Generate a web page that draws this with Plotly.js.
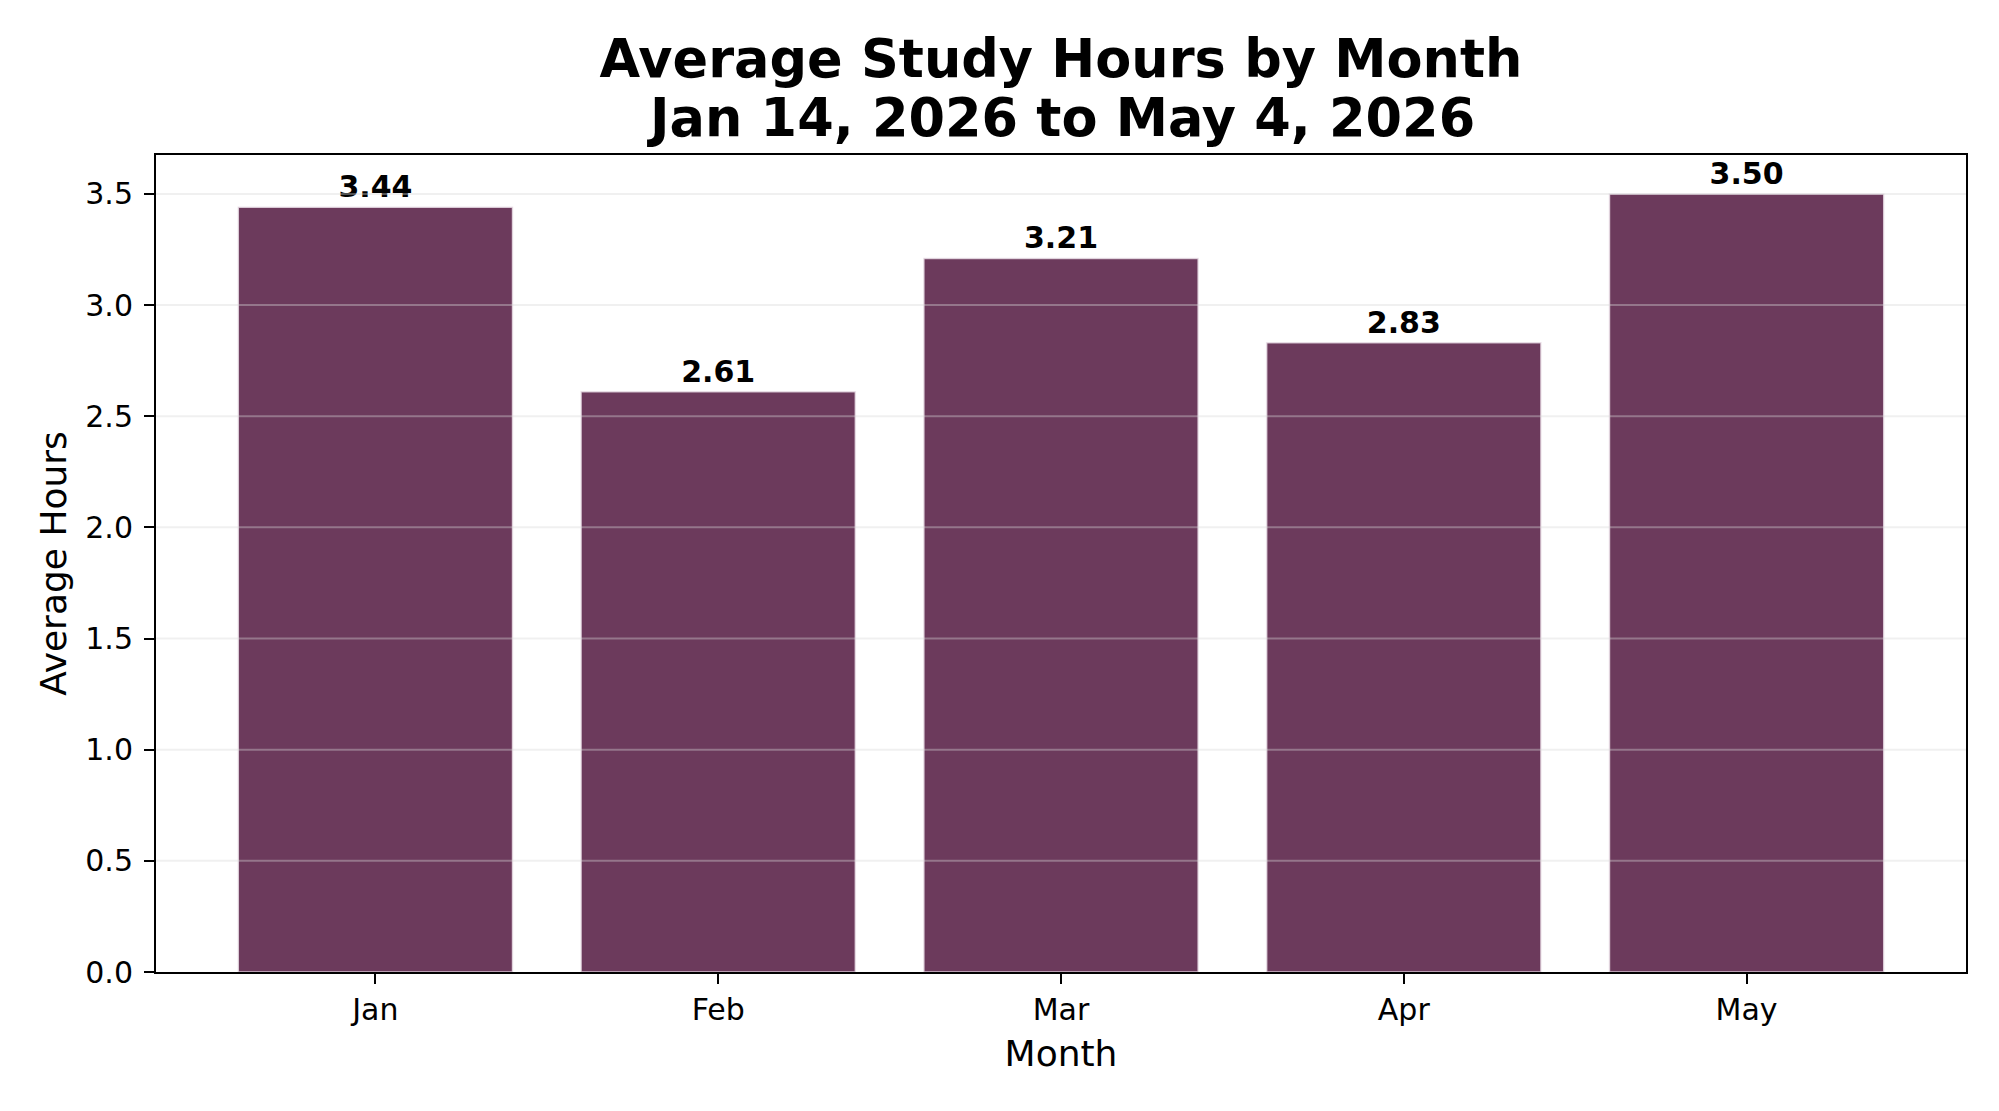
<!DOCTYPE html>
<html>
<head>
<meta charset="utf-8">
<script src="https://cdn.plot.ly/plotly-3.0.1.min.js"></script>
<style>
  html, body { margin: 0; padding: 0; background: #ffffff; }
  #chart { width: 1999px; height: 1111px; }
</style>
</head>
<body>
<div id="chart"></div>
<script>
const months = ["Jan", "Feb", "Mar", "Apr", "May"];
const avgHours = [3.44, 2.61, 3.21, 2.83, 3.50];
const barLabels = ["3.44", "2.61", "3.21", "2.83", "3.50"];
const yTickVals = [0.0, 0.5, 1.0, 1.5, 2.0, 2.5, 3.0, 3.5];
const titleLines = ["Average Study Hours by Month", "Jan 14, 2026 to May 4, 2026"];

const FONT = "DejaVu Sans, Liberation Sans, sans-serif";

const trace = {
  type: "bar",
  x: months,
  y: avgHours,
  width: 0.8,
  marker: { color: "#6c3a5c", line: { color: "rgba(235,225,232,0.8)", width: 1.5 } },
  text: barLabels,
  textposition: "outside",
  cliponaxis: false,
  constraintext: "none",
  textfont: { family: FONT, size: 30, color: "#000000", weight: "bold" },
  hoverinfo: "x+y"
};

const gridShapes = yTickVals.filter(v => v > 0).map(v => ({
  type: "line", xref: "paper", x0: 0, x1: 1, yref: "y", y0: v, y1: v,
  layer: "above",
  line: { color: "rgba(215,215,215,0.38)", width: 2 }
}));

const layout = {
  width: 1999,
  height: 1111,
  margin: { l: 156, r: 33, t: 155, b: 139 },
  paper_bgcolor: "#ffffff",
  plot_bgcolor: "#ffffff",
  showlegend: false,
  font: { family: FONT, color: "#000000" },
  title: {
    text: "<b>" + titleLines[0] + "</b>",
    font: { family: FONT, size: 52.5, color: "#000000" },
    x: 0.5, xref: "paper", xanchor: "center",
    y: 0.9476, yref: "container", yanchor: "middle"
  },
  annotations: [{
    text: "<b>" + titleLines[1] + "</b>",
    font: { family: FONT, size: 52.5, color: "#000000" },
    xref: "paper", x: 0.5, xanchor: "center",
    yref: "paper", y: 1.0462, yanchor: "middle",
    showarrow: false
  }],
  xaxis: {
    type: "category",
    range: [-0.64, 4.64],
    showgrid: false,
    zeroline: false,
    showline: true, mirror: true, linecolor: "#000000", linewidth: 2,
    ticks: "outside", ticklen: 10, tickwidth: 2, tickcolor: "#000000",
    tickfont: { family: FONT, size: 30, color: "#000000" },
    title: { text: "Month", font: { family: FONT, size: 36, color: "#000000" }, standoff: 15 },
    automargin: false
  },
  yaxis: {
    range: [0, 3.675],
    tickvals: yTickVals,
    ticktext: yTickVals.map(v => v.toFixed(1)),
    showgrid: false,
    zeroline: false,
    showline: true, mirror: true, linecolor: "#000000", linewidth: 2,
    ticks: "outside", ticklen: 10, tickwidth: 2, tickcolor: "#000000",
    ticklabelstandoff: 5,
    tickfont: { family: FONT, size: 30, color: "#000000" },
    title: { text: "Average Hours", font: { family: FONT, size: 36, color: "#000000" }, standoff: 8 },
    automargin: false
  },
  shapes: gridShapes
};

Plotly.newPlot("chart", [trace], layout, { displayModeBar: false, staticPlot: true });
</script>
</body>
</html>
